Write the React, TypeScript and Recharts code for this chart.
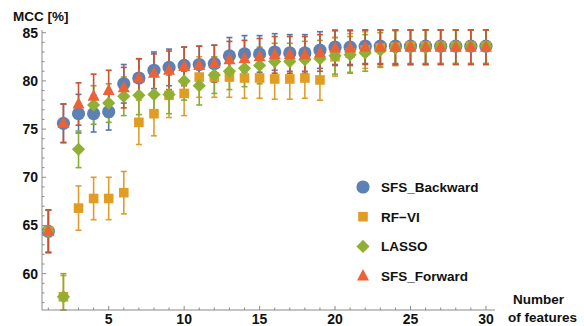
import { ScatterChart, Scatter, XAxis, YAxis, ErrorBar, Legend, Label } from "recharts"

const features = [1, 2, 3, 4, 5, 6, 7, 8, 9, 10, 11, 12, 13, 14, 15, 16, 17, 18, 19, 20, 21, 22, 23, 24, 25, 26, 27, 28, 29, 30]

const sfsBackward = [64.4, 75.6, 76.6, 76.6, 76.8, 79.7, 80.3, 81.1, 81.4, 81.6, 81.7, 81.8, 82.6, 82.8, 82.8, 83.0, 82.9, 82.9, 83.2, 83.5, 83.5, 83.6, 83.6, 83.6, 83.6, 83.6, 83.6, 83.6, 83.6, 83.6]
const sfsBackwardErr = [2.2, 2.0, 2.0, 1.9, 1.9, 2.0, 2.0, 1.9, 1.9, 1.9, 1.9, 1.9, 1.9, 1.9, 1.9, 1.9, 1.9, 1.9, 1.9, 1.8, 1.8, 1.8, 1.8, 1.8, 1.8, 1.8, 1.8, 1.8, 1.8, 1.8]

const rfVi = [64.4, 57.6, 66.8, 67.8, 67.8, 68.4, 75.7, 76.6, 78.5, 78.7, 80.4, 80.4, 80.4, 80.3, 80.3, 80.2, 80.2, 80.3, 80.1, 82.5, 82.9, 83.2, 83.4, 83.5, 83.6, 83.6, 83.6, 83.6, 83.6, 83.6]
const rfViErr = [2.2, 2.2, 2.3, 2.2, 2.2, 2.2, 2.3, 2.3, 2.3, 2.3, 2.1, 2.1, 2.1, 2.1, 2.1, 2.1, 2.1, 2.1, 2.1, 2.0, 2.0, 1.9, 1.9, 1.9, 1.9, 1.9, 1.9, 1.9, 1.9, 1.9]

const lasso = [64.4, 57.6, 72.9, 77.5, 77.7, 78.4, 78.5, 78.6, 78.6, 80.0, 79.5, 80.6, 81.0, 81.3, 81.6, 82.0, 82.0, 82.2, 82.3, 82.6, 82.7, 82.9, 83.2, 83.4, 83.5, 83.5, 83.6, 83.6, 83.6, 83.6]
const lassoErr = [2.2, 2.4, 1.9, 2.0, 2.0, 2.0, 2.0, 2.0, 2.0, 2.0, 2.0, 1.9, 1.9, 1.9, 1.9, 1.9, 1.9, 1.9, 1.9, 1.9, 1.9, 1.9, 1.8, 1.8, 1.8, 1.8, 1.8, 1.8, 1.8, 1.8]

const sfsForward = [64.4, 75.6, 77.6, 78.4, 79.0, 79.3, 80.3, 80.8, 81.1, 81.5, 81.6, 81.8, 82.2, 82.3, 82.5, 82.7, 82.7, 82.7, 82.9, 83.4, 83.4, 83.5, 83.5, 83.5, 83.5, 83.5, 83.5, 83.5, 83.5, 83.5]
const sfsForwardErr = [2.2, 2.0, 2.2, 2.3, 2.1, 2.1, 2.0, 2.0, 2.0, 2.0, 2.0, 1.9, 1.9, 1.9, 1.9, 1.9, 1.9, 1.9, 1.9, 1.8, 1.8, 1.8, 1.8, 1.8, 1.8, 1.8, 1.8, 1.8, 1.8, 1.8]

const yTicks = [57, 58, 59, 60, 61, 62, 63, 64, 65, 66, 67, 68, 69, 70, 71, 72, 73, 74, 75, 76, 77, 78, 79, 80, 81, 82, 83, 84, 85]
const yMajor = [60, 65, 70, 75, 80, 85]
const xMajor = [5, 10, 15, 20, 25, 30]
const Y_MIN = 56.23
const Y_MAX = 85.28

const FONT = "'Liberation Sans', Arial, sans-serif"
const AXIS = "#8a8a8a"

// error bars are cut at the plot box, like the original
const toRows = (vals: number[], errs: number[]) =>
  vals.map((v, i) => ({
    x: features[i],
    y: v,
    err: [Math.min(errs[i], v - Y_MIN), Math.min(errs[i], Y_MAX - v)],
  }))

const circle = (cx: number, cy: number) => <circle cx={cx} cy={cy} r={6.6} fill="#5E81B5" />
const square = (cx: number, cy: number) => (
  <rect x={cx - 4.8} y={cy - 4.8} width={9.6} height={9.6} fill="#E19C24" />
)
const diamond = (cx: number, cy: number) => (
  <polygon points={`${cx},${cy - 6.6} ${cx + 6.6},${cy} ${cx},${cy + 6.6} ${cx - 6.6},${cy}`} fill="#8FB032" />
)
const triangle = (cx: number, cy: number) => (
  <polygon points={`${cx},${cy - 7} ${cx + 6},${cy + 4.5} ${cx - 6},${cy + 4.5}`} fill="#EB6235" />
)

const series = [
  { name: "SFS_Backward", rows: toRows(sfsBackward, sfsBackwardErr), icon: circle, bar: "#5477ad" },
  { name: "RF\u2212VI", rows: toRows(rfVi, rfViErr), icon: square, bar: "#e09d2c" },
  { name: "LASSO", rows: toRows(lasso, lassoErr), icon: diamond, bar: "#8aab35" },
  { name: "SFS_Forward", rows: toRows(sfsForward, sfsForwardErr), icon: triangle, bar: "#c9522f" },
]

function YTick({ x, y, payload }: any) {
  const major = yMajor.includes(payload.value)
  return (
    <g>
      <line x1={x} x2={x + (major ? 4 : 2.5)} y1={y} y2={y} stroke={AXIS} />
      {major && (
        <text x={x - 4} y={y} dy={5} textAnchor="end" fontSize={14} fontWeight="bold" fontFamily={FONT} fill="#111">
          {payload.value}
        </text>
      )}
    </g>
  )
}

function XTick({ x, y, payload }: any) {
  const major = xMajor.includes(payload.value)
  return (
    <g>
      <line x1={x} x2={x} y1={y} y2={y - (major ? 4 : 2.5)} stroke={AXIS} />
      {major && (
        <text x={x} y={y + 14} textAnchor="middle" fontSize={14} fontWeight="bold" fontFamily={FONT} fill="#111">
          {payload.value}
        </text>
      )}
    </g>
  )
}

function LegendBox() {
  return (
    <svg width={150} height={122} style={{ display: "block" }}>
      {series.map((s, i) => (
        <g key={s.name}>
          {s.icon(10, 15 + i * 29.7)}
          <text x={28} y={15 + i * 29.7} dy={5} fontSize={13.5} fontWeight="bold" fontFamily={FONT} fill="#111">
            {s.name}
          </text>
        </g>
      ))}
    </svg>
  )
}

function AxisTitles() {
  const style = { fontSize: 13.5, fontWeight: "bold" as const, fontFamily: FONT, fill: "#111" }
  return (
    <g>
      <text x={13} y={21} {...style}>MCC [%]</text>
      <text x={513} y={304} {...style}>Number</text>
      <text x={508} y={322} {...style}>of features</text>
    </g>
  )
}

export default function App() {
  return (
    <div style={{ position: "absolute", left: 0, top: 0, background: "#fff" }}>
      <ScatterChart width={584} height={326} margin={{ top: 30, right: 89, bottom: 0, left: 0 }}>
        <XAxis
          type="number"
          dataKey="x"
          domain={[0.58, 30.6]}
          ticks={features}
          interval={0}
          allowDataOverflow
          height={16}
          tickSize={0}
          tickMargin={0}
          tickLine={false}
          axisLine={{ stroke: AXIS }}
          tick={<XTick />}
        >
          <Label content={() => <AxisTitles />} />
        </XAxis>
        <YAxis
          type="number"
          dataKey="y"
          domain={[Y_MIN, Y_MAX]}
          ticks={yTicks}
          interval={0}
          allowDataOverflow
          width={42}
          tickSize={0}
          tickMargin={0}
          tickLine={false}
          axisLine={{ stroke: AXIS }}
          tick={<YTick />}
        />
        {series.map((s) => (
          <Scatter
            key={s.name}
            name={s.name}
            data={s.rows}
            isAnimationActive={false}
            shape={(p: any) => s.icon(p.cx, p.cy)}
          >
            <ErrorBar dataKey="err" direction="y" width={3} stroke={s.bar} strokeWidth={1.6} />
          </Scatter>
        ))}
        <Legend
          layout="horizontal"
          verticalAlign="middle"
          align="center"
          content={() => <LegendBox />}
          wrapperStyle={{ position: "absolute", left: 353, top: 172, width: 150, height: 122 }}
        />
      </ScatterChart>
    </div>
  )
}
